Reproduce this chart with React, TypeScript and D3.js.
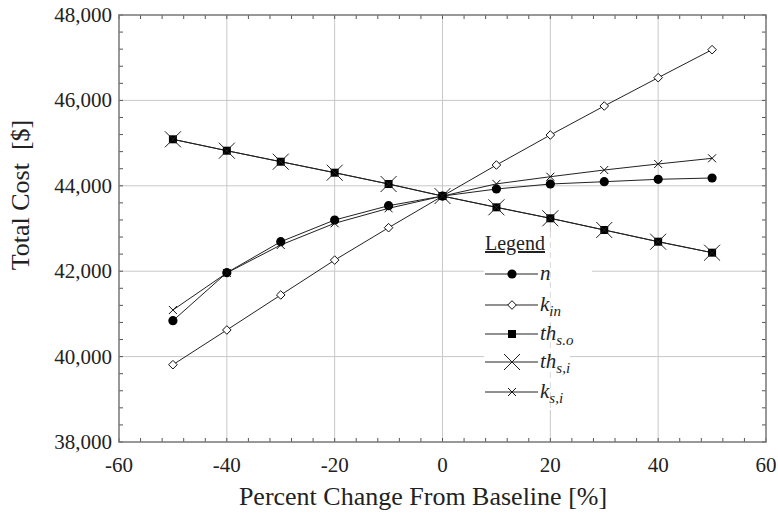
import React from "react";
import * as d3 from "d3";

// Percent change from baseline for each sensitivity run
const pctChange = [-50, -40, -30, -20, -10, 0, 10, 20, 30, 40, 50];

// Total cost [$] for each parameter being varied
const costN = [40841, 41965, 42691, 43199, 43534, 43760, 43925, 44042, 44096, 44152, 44183];
const costKin = [39810, 40623, 41443, 42260, 43019, 43760, 44487, 45190, 45869, 46532, 47188];
const costThSo = [45089, 44822, 44564, 44307, 44042, 43760, 43496, 43239, 42965, 42691, 42434];
const costThSi = [45089, 44822, 44564, 44307, 44042, 43760, 43496, 43239, 42965, 42691, 42434];
const costKsi = [41091, 41960, 42614, 43122, 43473, 43760, 44045, 44213, 44370, 44511, 44644];

const xTicks = [-60, -40, -20, 0, 20, 40, 60];
const yTicks = [38000, 40000, 42000, 44000, 46000, 48000];

type MarkerKind = "circle" | "diamond" | "square" | "bigX" | "smallX";

const seriesList: { key: string; values: number[]; marker: MarkerKind; base: string; sub: string }[] = [
  { key: "n", values: costN, marker: "circle", base: "n", sub: "" },
  { key: "kin", values: costKin, marker: "diamond", base: "k", sub: "in" },
  { key: "thso", values: costThSo, marker: "square", base: "th", sub: "s.o" },
  { key: "thsi", values: costThSi, marker: "bigX", base: "th", sub: "s,i" },
  { key: "ksi", values: costKsi, marker: "smallX", base: "k", sub: "s,i" },
];

const W = 778;
const H = 516;
const left = 119;
const right = 766;
const top = 15;
const bottom = 442;

const serif = "\"Liberation Serif\", \"Times New Roman\", \"DejaVu Serif\", serif";
const textStyle = { fontFamily: serif };

function Marker({ kind, cx, cy }: { kind: MarkerKind; cx: number; cy: number }) {
  switch (kind) {
    case "circle":
      return <circle cx={cx} cy={cy} r={4.6} fill="#000" />;
    case "diamond":
      return (
        <path
          d={`M${cx},${cy - 4.3}L${cx + 4.3},${cy}L${cx},${cy + 4.3}L${cx - 4.3},${cy}Z`}
          fill="#fff"
          stroke="#111"
          strokeWidth={1}
        />
      );
    case "square":
      return <rect x={cx - 4} y={cy - 4} width={8} height={8} fill="#000" />;
    case "bigX":
      return (
        <path
          d={`M${cx - 8},${cy - 8}L${cx + 8},${cy + 8}M${cx - 8},${cy + 8}L${cx + 8},${cy - 8}`}
          stroke="#222"
          strokeWidth={1}
          fill="none"
        />
      );
    case "smallX":
      return (
        <path
          d={`M${cx - 4},${cy - 4}L${cx + 4},${cy + 4}M${cx - 4},${cy + 4}L${cx + 4},${cy - 4}`}
          stroke="#111"
          strokeWidth={1}
          fill="none"
        />
      );
  }
}

export default function App() {
  const x = d3.scaleLinear().domain([-60, 60]).range([left, right]);
  const y = d3.scaleLinear().domain([38000, 48000]).range([bottom, top]);

  const line = d3
    .line<[number, number]>()
    .x((d) => x(d[0]))
    .y((d) => y(d[1]));

  const xMinor = d3.range(-60, 60.001, 4);
  const yMinor = d3.range(38000, 48000.001, 400);
  const tickLen = 4;
  const fmt = d3.format(",");

  const legendX0 = 485;
  const legendX1 = 538;
  const legendRows = [274, 305, 334, 362, 392];

  return (
    <svg
      width={W}
      height={H}
      style={{ position: "absolute", left: 0, top: 0, background: "#fff", fontFamily: serif }}
    >
      {/* grid */}
      {xTicks.slice(1, -1).map((t) => (
        <line key={`gx${t}`} x1={x(t)} x2={x(t)} y1={top} y2={bottom} stroke="#c8c8c8" strokeWidth={1} />
      ))}
      {yTicks.slice(1, -1).map((t) => (
        <line key={`gy${t}`} x1={left} x2={right} y1={y(t)} y2={y(t)} stroke="#c8c8c8" strokeWidth={1} />
      ))}

      {/* legend backdrop */}
      <rect x={484} y={232} width={108} height={62} fill="#fff" />
      <rect x={484} y={294} width={86} height={116} fill="#fff" />
      <line x1={x(20)} x2={x(20)} y1={232} y2={410} stroke="#d8d8d8" strokeWidth={1} strokeDasharray="6,4" />

      {/* minor ticks on all four sides */}
      {xMinor.map((t) => (
        <g key={`mx${t}`}>
          <line x1={x(t)} x2={x(t)} y1={bottom} y2={bottom - tickLen} stroke="#555" />
          <line x1={x(t)} x2={x(t)} y1={top} y2={top + tickLen} stroke="#555" />
        </g>
      ))}
      {yMinor.map((t) => (
        <g key={`my${t}`}>
          <line x1={left} x2={left + tickLen} y1={y(t)} y2={y(t)} stroke="#555" />
          <line x1={right} x2={right - tickLen} y1={y(t)} y2={y(t)} stroke="#555" />
        </g>
      ))}

      {/* frame */}
      <rect x={left} y={top} width={right - left} height={bottom - top} fill="none" stroke="#777" strokeWidth={1.5} />

      {/* series lines */}
      {seriesList.map((s) => (
        <path
          key={`l${s.key}`}
          d={line(pctChange.map((p, i) => [p, s.values[i]] as [number, number])) || ""}
          fill="none"
          stroke="#222"
          strokeWidth={1}
        />
      ))}

      {/* series markers */}
      {seriesList.map((s) => (
        <g key={`m${s.key}`}>
          {pctChange.map((p, i) => (
            <Marker key={i} kind={s.marker} cx={x(p)} cy={y(s.values[i])} />
          ))}
        </g>
      ))}

      {/* tick labels */}
      {xTicks.map((t) => (
        <text key={`tx${t}`} x={x(t)} y={472} textAnchor="middle" fontSize={21} fill="#222" style={textStyle}>
          {t}
        </text>
      ))}
      {yTicks.map((t) => (
        <text key={`ty${t}`} x={112} y={y(t) + 7} textAnchor="end" fontSize={21} fill="#222" style={textStyle}>
          {fmt(t)}
        </text>
      ))}

      {/* axis titles */}
      <text x={423} y={505} textAnchor="middle" fontSize={26} fill="#222" style={textStyle}>
        Percent Change From Baseline [%]
      </text>
      <text
        transform={`translate(29,195) rotate(-90)`}
        textAnchor="middle"
        fontSize={26}
        fill="#222"
        style={{ ...textStyle, whiteSpace: "pre" }}
      >
        {"Total Cost  [$]"}
      </text>

      {/* legend */}
      <text x={485} y={250} fontSize={20} fill="#222" textDecoration="underline" style={textStyle}>
        Legend
      </text>
      {seriesList.map((s, i) => {
        const ry = legendRows[i];
        return (
          <g key={`lg${s.key}`}>
            <line x1={legendX0} x2={legendX1} y1={ry} y2={ry} stroke="#222" strokeWidth={1} />
            <Marker kind={s.marker} cx={(legendX0 + legendX1) / 2 + 0.5} cy={ry} />
            <text x={540} y={ry + 6} fontSize={21} fontStyle="italic" fill="#222" style={textStyle}>
              {s.base}
              {s.sub && (
                <tspan fontSize={15} dy={5}>
                  {s.sub}
                </tspan>
              )}
            </text>
          </g>
        );
      })}
    </svg>
  );
}
